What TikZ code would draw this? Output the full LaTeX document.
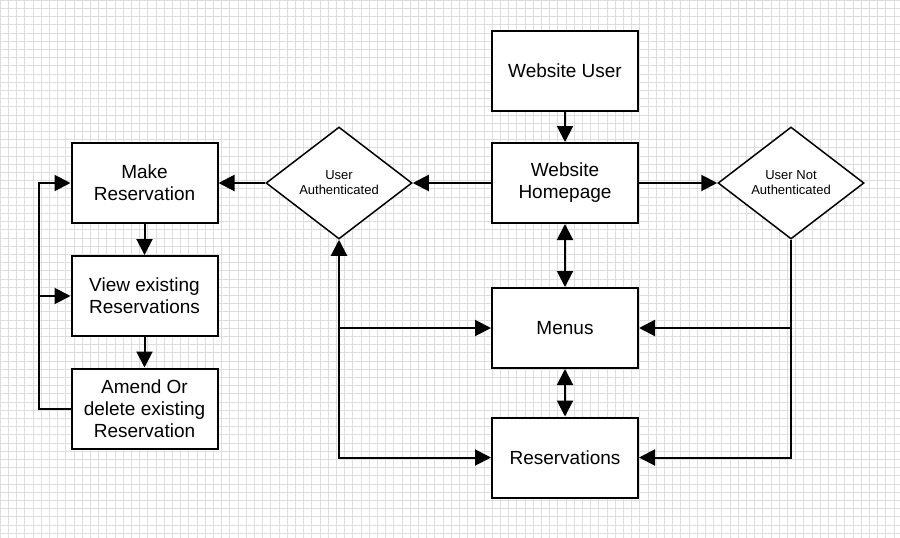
\documentclass[tikz,border=0pt]{standalone}
\usepackage{fontspec}
\setmainfont{Liberation Sans}
\usetikzlibrary{arrows.meta,shapes.geometric}

\tikzset{
    gridline/.style={black!13, line width=0.6pt},
    box/.style={draw, line width=2pt, fill=white, minimum width=146pt, minimum height=80pt,
        align=center, inner sep=2pt, font=\fontsize{19}{22}\selectfont},
    decision/.style={draw, diamond, line width=1.5pt, fill=white, minimum width=146pt,
        minimum height=112pt, inner sep=0pt, align=center, font=\fontsize{13}{15}\selectfont},
    link/.style={line width=2pt, >={Triangle[length=16pt,width=16pt]}}
}

\begin{document}
\begin{tikzpicture}[x=1pt, y=-1pt]
    % Canvas and grid
    \useasboundingbox (0,0) rectangle (900,538);
    \fill[white] (0,0) rectangle (900,538);
    \foreach \gx in {0,8.2,...,900} \draw[gridline] (\gx,0) -- (\gx,538);
    \foreach \gy in {0,8.2,...,538} \draw[gridline] (0,\gy) -- (900,\gy);

    % Main column
    \node[box] (user) at (565,71) {Website User};
    \node[box] (home) at (565,183) {Website\\Homepage};
    \node[box] (menus) at (565,328) {Menus};
    \node[box] (resv) at (565,457.5) {Reservations};

    % Decisions
    \node[decision] (auth) at (339,183) {User\\Authenticated};
    \node[decision] (notauth) at (791,183) {User Not\\Authenticated};

    % Reservation column
    \node[box] (make) at (144.5,183) {Make\\Reservation};
    \node[box] (view) at (144.5,296) {View existing\\Reservations};
    \node[box] (amend) at (144.5,408.5) {Amend Or\\delete existing\\Reservation};

    % Connectors
    \draw[link,->] (user) -- (home);
    \draw[link,->] (home) -- (auth);
    \draw[link,->] (home) -- (notauth);
    \draw[link,->] (auth) -- (make);
    \draw[link,<->] (home) -- (menus);
    \draw[link,<->] (menus) -- (resv);
    \draw[link,->] (make) -- (view);
    \draw[link,->] (view) -- (amend);

    % Loop back from amend
    \draw[link,->] (amend.west) -- ++(-32,0) coordinate (loop) |- (make.west);
    \draw[link,->] (loop |- view.west) -- (view.west);

    % Authenticated branch
    \draw[link,<->] (auth.south) |- (resv.west);
    \draw[link,->] (auth.south |- menus.west) -- (menus.west);

    % Not authenticated branch
    \draw[link,->] (notauth.south) |- (resv.east);
    \draw[link,->] (notauth.south |- menus.east) -- (menus.east);
\end{tikzpicture}
\end{document}
